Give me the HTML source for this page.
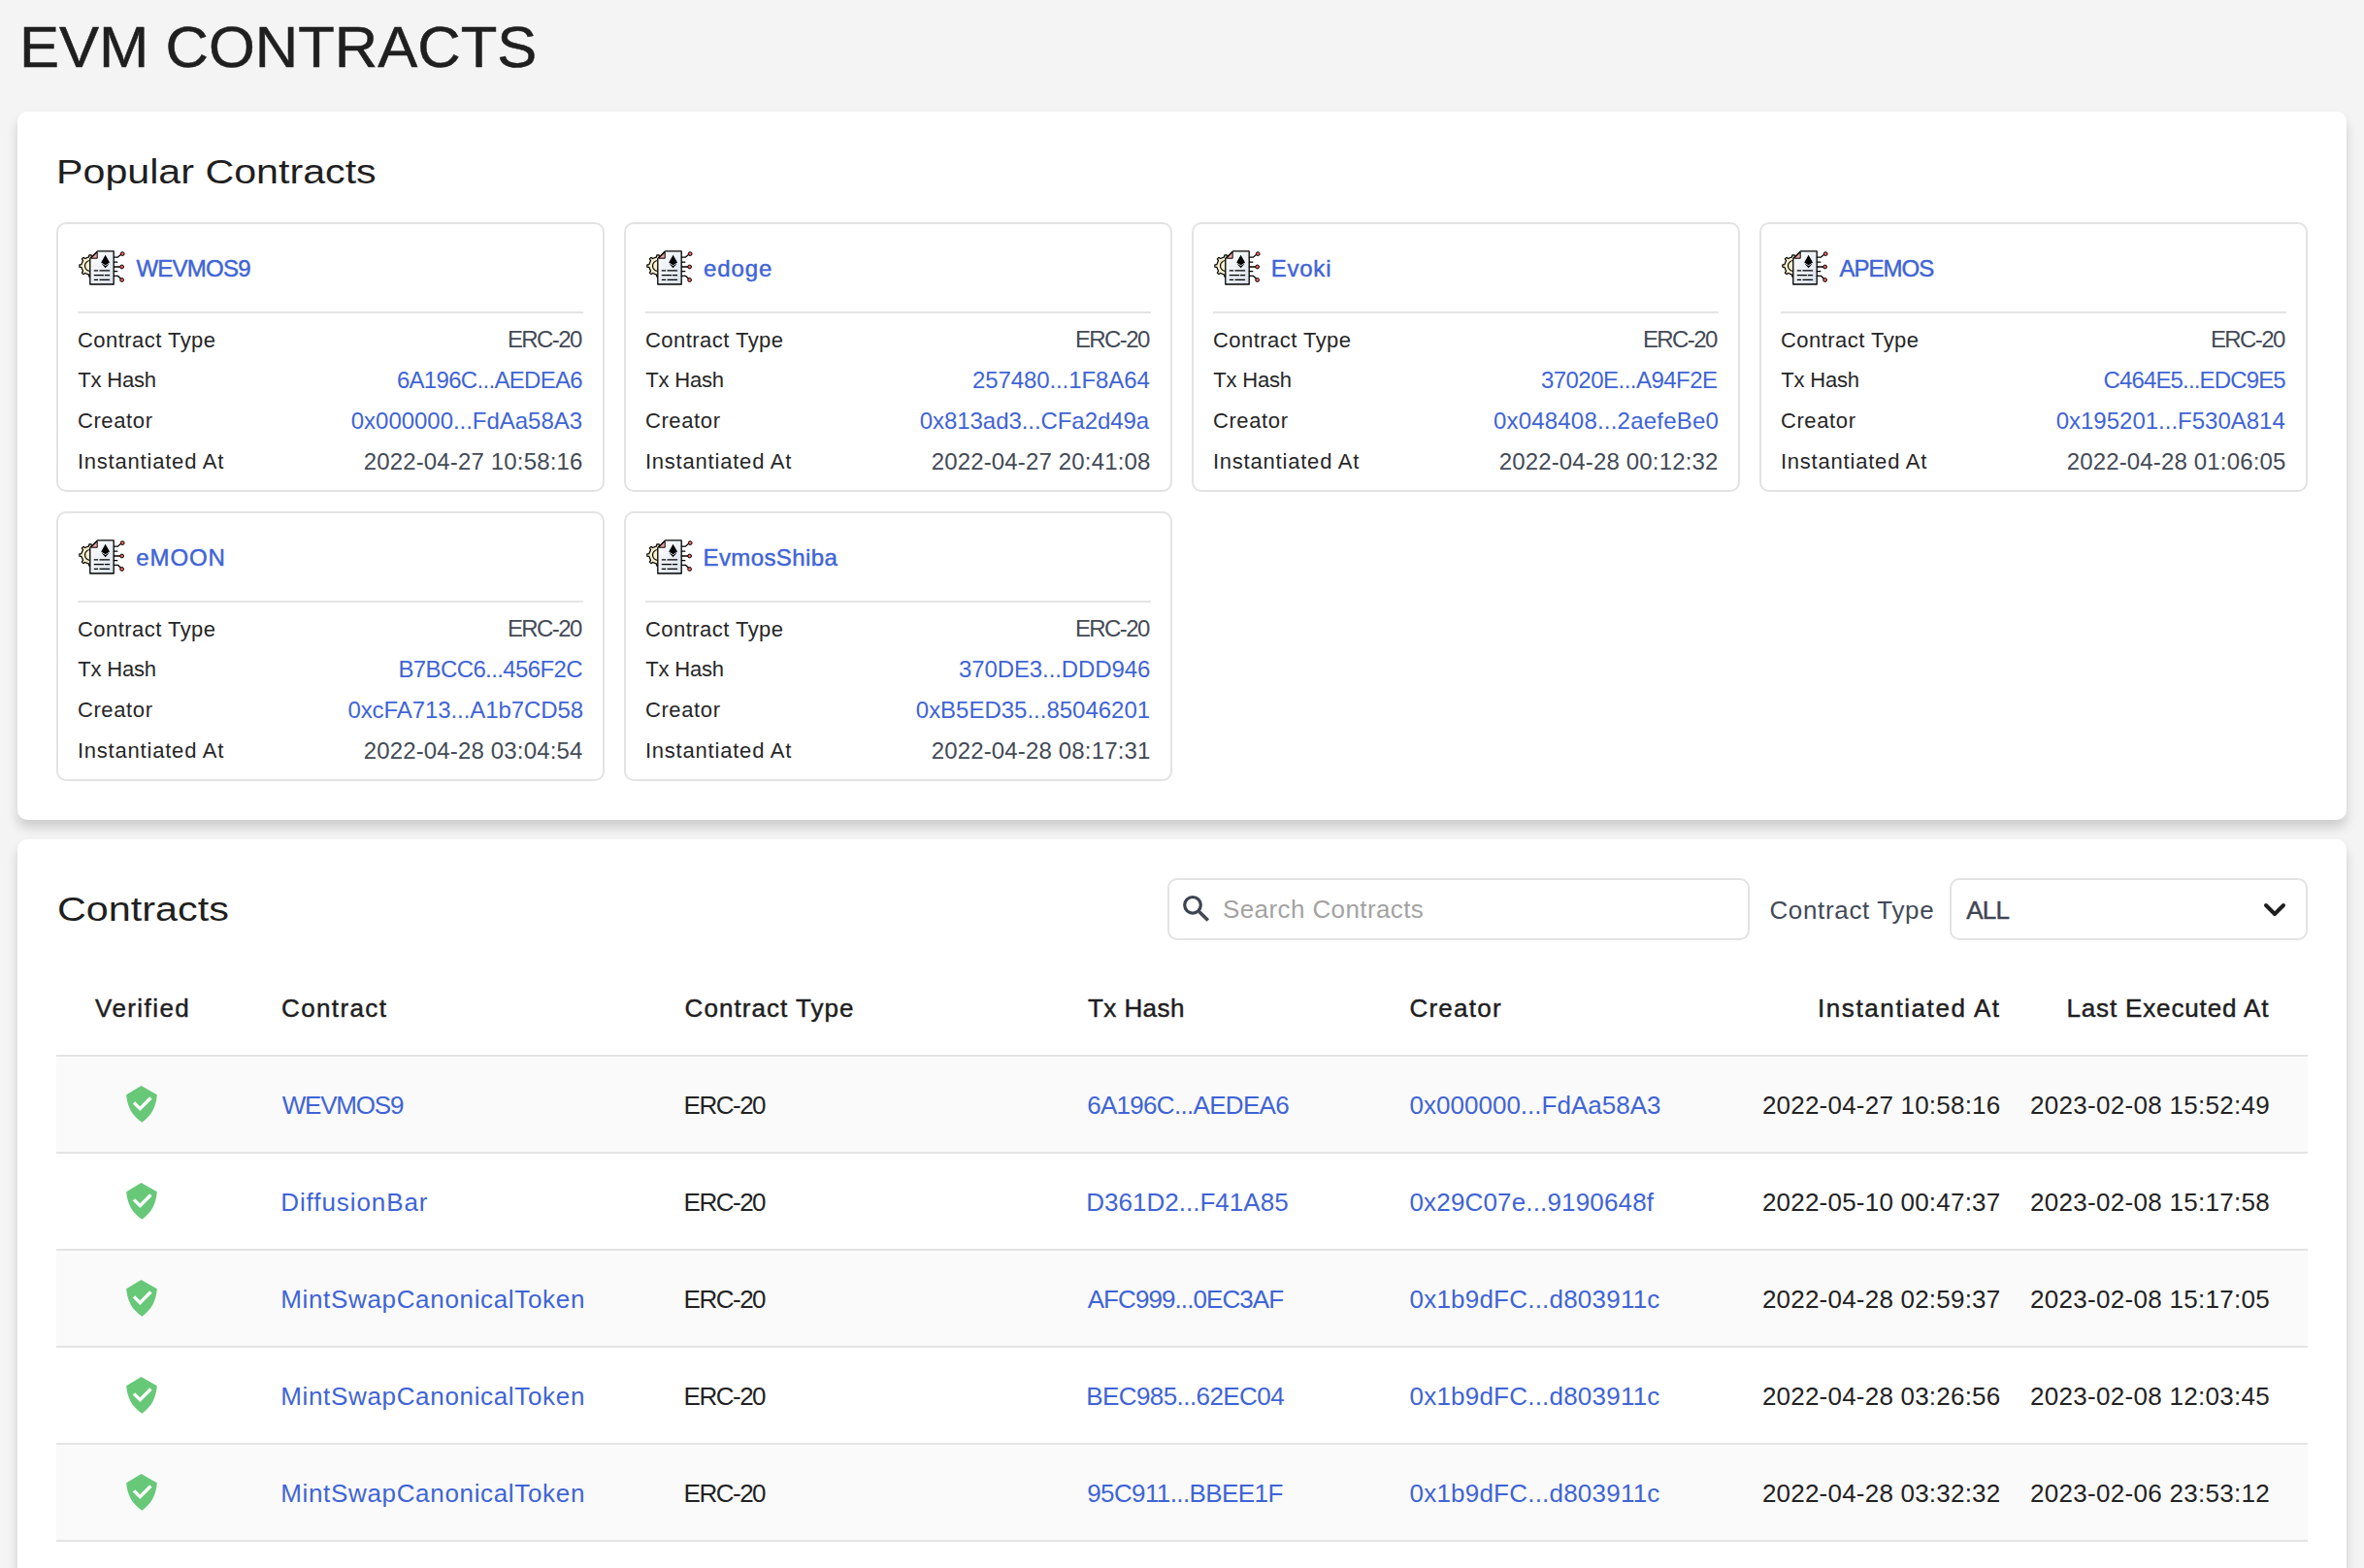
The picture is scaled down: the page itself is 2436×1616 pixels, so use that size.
<!DOCTYPE html>
<html><head><meta charset="utf-8"><title>EVM Contracts</title>
<style>
*{box-sizing:border-box;margin:0;padding:0}
html,body{width:2436px;height:1616px;overflow:hidden;background:#f4f4f4;-webkit-font-smoothing:antialiased;font-family:"Liberation Sans",sans-serif;color:#222;position:relative}
.t{position:absolute;white-space:nowrap}
.ic{position:absolute}
.h1{color:#1f1f1f;transform:scaleX(1.043);transform-origin:0 0;-webkit-text-stroke:0.5px #1f1f1f}
.card{position:absolute;left:18px;width:2400px;background:#fff;border-radius:10px;box-shadow:0 8px 12px rgba(0,0,0,0.16)}
.ct{color:#1f1f1f;transform-origin:0 0}
.pc{position:absolute;width:565px;height:278px;border:2px solid #e3e3e3;border-radius:10px;background:#fff}
.pn{color:#3f64d6;-webkit-text-stroke:0.45px #3f64d6}
.line{position:absolute;height:2px;background:#e4e4e4}
.pl{color:#262626}
.pv{color:#434a55}
.lk{color:#3f64d6 !important}
.box{position:absolute;height:64px;border:2px solid #e3e3e3;border-radius:10px;background:#fff}
.phd{color:#a3a3a3}
.ctl{color:#434a57}
.all{color:#3f4653;-webkit-text-stroke:0.45px #3f4653}
.th{color:#1e1e1e;-webkit-text-stroke:0.45px #1e1e1e}
.tr{position:absolute;left:58px;width:2320px;height:100px;border-bottom:2px solid #e4e4e4}
.tb{color:#222}
</style></head><body>
<svg width="0" height="0" style="position:absolute"><defs><linearGradient id="dg" x1="0" y1="0" x2="1" y2="1"><stop offset="0" stop-color="#ffffff"/><stop offset="1" stop-color="#d9e1ea"/></linearGradient></defs></svg>
<div class="t h1" style="left:19.50px;top:19.86px;font-size:59px;line-height:59px;">EVM CONTRACTS</div>
<div class="card" style="top:115px;height:730px"></div>
<div class="t ct" style="left:57.80px;top:158.92px;font-size:35.3px;line-height:35.3px;transform:scaleX(1.167)">Popular Contracts</div>
<div class="pc" style="left:58px;top:229px"></div>
<svg class="ic" width="60" height="48" viewBox="0 0 60 48" style="left:76px;top:252px">
<path d="M26.09 20.56 L28.14 20.86 L28.14 23.14 L26.09 23.44 L24.44 27.41 L25.69 29.07 L24.07 30.69 L22.41 29.44 L18.44 31.09 L18.14 33.14 L15.86 33.14 L15.56 31.09 L11.59 29.44 L9.93 30.69 L8.31 29.07 L9.56 27.41 L7.91 23.44 L5.86 23.14 L5.86 20.86 L7.91 20.56 L9.56 16.59 L8.31 14.93 L9.93 13.31 L11.59 14.56 L15.56 12.91 L15.86 10.86 L18.14 10.86 L18.44 12.91 L22.41 14.56 L24.07 13.31 L25.69 14.93 L24.44 16.59 Z" fill="#f9f0cc" stroke="#000" stroke-width="1.2" stroke-linejoin="round"/>
<path d="M17 16.5 A5.5 5.5 0 0 0 17 27.5" fill="none" stroke="#000" stroke-width="1.2"/>
<path d="M16.8 14.5 L24.4 6.9 L41.2 6.9 L41.2 41 L16.8 41 Z" fill="url(#dg)" stroke="#000" stroke-width="1.3" stroke-linejoin="round"/>
<path d="M18 14.2 L24.2 8 L24.2 14.2 Z" fill="#f4a3a3" stroke="#000" stroke-width="1"/>
<path d="M32.6 10.7 L37 18.6 L32.6 21.2 L28.2 18.6 Z M28.4 19.6 L32.6 22.1 L36.8 19.6 L32.6 24.3 Z" fill="#000"/>
<g stroke="#000" stroke-width="1.3" stroke-linecap="round">
<path d="M21.3 26.9 H24.6 M27 26.9 H36.6 M21.3 31.7 H30.5 M32.4 31.7 H36.6 M21.3 36.3 H24.6 M27 36.3 H36.6"/>
<path d="M41.5 13.2 H45.3 L49.6 9.6 M41.5 18.2 H44.8 M41.5 23 H48.6 M41.5 27.7 H44.8 M41.5 32.4 H45.5 L49.4 36" fill="none"/>
</g>
<g fill="#f06262" stroke="#000" stroke-width="1">
<circle cx="50.2" cy="9.6" r="1.9"/><circle cx="49.6" cy="23" r="1.9"/><circle cx="49.6" cy="36.5" r="1.9"/>
</g>
</svg>
<div class="t pn" style="left:140.50px;top:264.58px;font-size:24px;line-height:24px;letter-spacing:-0.783px">WEVMOS9</div>
<div class="line" style="left:80px;top:321px;width:521px"></div>
<div class="t pl" style="left:79.90px;top:339.58px;font-size:22px;line-height:22px;letter-spacing:0.467px">Contract Type</div>
<div class="t pl" style="left:80.20px;top:381.48px;font-size:22px;line-height:22px;letter-spacing:-0.167px">Tx Hash</div>
<div class="t pl" style="left:79.90px;top:423.48px;font-size:22px;line-height:22px;letter-spacing:0.633px">Creator</div>
<div class="t pl" style="left:79.90px;top:465.28px;font-size:22px;line-height:22px;letter-spacing:0.793px">Instantiated At</div>
<div class="t pv" style="left:522.90px;top:337.88px;font-size:24px;line-height:24px;letter-spacing:-1.58px">ERC-20</div>
<div class="t pv lk" style="left:408.90px;top:379.78px;font-size:24px;line-height:24px;letter-spacing:-0.693px">6A196C...AEDEA6</div>
<div class="t pv lk" style="left:361.80px;top:421.78px;font-size:24px;line-height:24px;letter-spacing:-0.033px">0x000000...FdAa58A3</div>
<div class="t pv" style="left:374.65px;top:463.58px;font-size:24px;line-height:24px;letter-spacing:0.158px">2022-04-27 10:58:16</div>
<div class="pc" style="left:643px;top:229px"></div>
<svg class="ic" width="60" height="48" viewBox="0 0 60 48" style="left:661px;top:252px">
<path d="M26.09 20.56 L28.14 20.86 L28.14 23.14 L26.09 23.44 L24.44 27.41 L25.69 29.07 L24.07 30.69 L22.41 29.44 L18.44 31.09 L18.14 33.14 L15.86 33.14 L15.56 31.09 L11.59 29.44 L9.93 30.69 L8.31 29.07 L9.56 27.41 L7.91 23.44 L5.86 23.14 L5.86 20.86 L7.91 20.56 L9.56 16.59 L8.31 14.93 L9.93 13.31 L11.59 14.56 L15.56 12.91 L15.86 10.86 L18.14 10.86 L18.44 12.91 L22.41 14.56 L24.07 13.31 L25.69 14.93 L24.44 16.59 Z" fill="#f9f0cc" stroke="#000" stroke-width="1.2" stroke-linejoin="round"/>
<path d="M17 16.5 A5.5 5.5 0 0 0 17 27.5" fill="none" stroke="#000" stroke-width="1.2"/>
<path d="M16.8 14.5 L24.4 6.9 L41.2 6.9 L41.2 41 L16.8 41 Z" fill="url(#dg)" stroke="#000" stroke-width="1.3" stroke-linejoin="round"/>
<path d="M18 14.2 L24.2 8 L24.2 14.2 Z" fill="#f4a3a3" stroke="#000" stroke-width="1"/>
<path d="M32.6 10.7 L37 18.6 L32.6 21.2 L28.2 18.6 Z M28.4 19.6 L32.6 22.1 L36.8 19.6 L32.6 24.3 Z" fill="#000"/>
<g stroke="#000" stroke-width="1.3" stroke-linecap="round">
<path d="M21.3 26.9 H24.6 M27 26.9 H36.6 M21.3 31.7 H30.5 M32.4 31.7 H36.6 M21.3 36.3 H24.6 M27 36.3 H36.6"/>
<path d="M41.5 13.2 H45.3 L49.6 9.6 M41.5 18.2 H44.8 M41.5 23 H48.6 M41.5 27.7 H44.8 M41.5 32.4 H45.5 L49.4 36" fill="none"/>
</g>
<g fill="#f06262" stroke="#000" stroke-width="1">
<circle cx="50.2" cy="9.6" r="1.9"/><circle cx="49.6" cy="23" r="1.9"/><circle cx="49.6" cy="36.5" r="1.9"/>
</g>
</svg>
<div class="t pn" style="left:725.00px;top:264.58px;font-size:24px;line-height:24px;letter-spacing:0.875px">edoge</div>
<div class="line" style="left:665px;top:321px;width:521px"></div>
<div class="t pl" style="left:664.90px;top:339.58px;font-size:22px;line-height:22px;letter-spacing:0.467px">Contract Type</div>
<div class="t pl" style="left:665.20px;top:381.48px;font-size:22px;line-height:22px;letter-spacing:-0.167px">Tx Hash</div>
<div class="t pl" style="left:664.90px;top:423.48px;font-size:22px;line-height:22px;letter-spacing:0.633px">Creator</div>
<div class="t pl" style="left:664.90px;top:465.28px;font-size:22px;line-height:22px;letter-spacing:0.793px">Instantiated At</div>
<div class="t pv" style="left:1107.90px;top:337.88px;font-size:24px;line-height:24px;letter-spacing:-1.58px">ERC-20</div>
<div class="t pv lk" style="left:1002.00px;top:379.78px;font-size:24px;line-height:24px;letter-spacing:-0.1px">257480...1F8A64</div>
<div class="t pv lk" style="left:947.80px;top:421.78px;font-size:24px;line-height:24px;letter-spacing:-0.067px">0x813ad3...CFa2d49a</div>
<div class="t pv" style="left:959.65px;top:463.58px;font-size:24px;line-height:24px;letter-spacing:0.158px">2022-04-27 20:41:08</div>
<div class="pc" style="left:1228px;top:229px"></div>
<svg class="ic" width="60" height="48" viewBox="0 0 60 48" style="left:1246px;top:252px">
<path d="M26.09 20.56 L28.14 20.86 L28.14 23.14 L26.09 23.44 L24.44 27.41 L25.69 29.07 L24.07 30.69 L22.41 29.44 L18.44 31.09 L18.14 33.14 L15.86 33.14 L15.56 31.09 L11.59 29.44 L9.93 30.69 L8.31 29.07 L9.56 27.41 L7.91 23.44 L5.86 23.14 L5.86 20.86 L7.91 20.56 L9.56 16.59 L8.31 14.93 L9.93 13.31 L11.59 14.56 L15.56 12.91 L15.86 10.86 L18.14 10.86 L18.44 12.91 L22.41 14.56 L24.07 13.31 L25.69 14.93 L24.44 16.59 Z" fill="#f9f0cc" stroke="#000" stroke-width="1.2" stroke-linejoin="round"/>
<path d="M17 16.5 A5.5 5.5 0 0 0 17 27.5" fill="none" stroke="#000" stroke-width="1.2"/>
<path d="M16.8 14.5 L24.4 6.9 L41.2 6.9 L41.2 41 L16.8 41 Z" fill="url(#dg)" stroke="#000" stroke-width="1.3" stroke-linejoin="round"/>
<path d="M18 14.2 L24.2 8 L24.2 14.2 Z" fill="#f4a3a3" stroke="#000" stroke-width="1"/>
<path d="M32.6 10.7 L37 18.6 L32.6 21.2 L28.2 18.6 Z M28.4 19.6 L32.6 22.1 L36.8 19.6 L32.6 24.3 Z" fill="#000"/>
<g stroke="#000" stroke-width="1.3" stroke-linecap="round">
<path d="M21.3 26.9 H24.6 M27 26.9 H36.6 M21.3 31.7 H30.5 M32.4 31.7 H36.6 M21.3 36.3 H24.6 M27 36.3 H36.6"/>
<path d="M41.5 13.2 H45.3 L49.6 9.6 M41.5 18.2 H44.8 M41.5 23 H48.6 M41.5 27.7 H44.8 M41.5 32.4 H45.5 L49.4 36" fill="none"/>
</g>
<g fill="#f06262" stroke="#000" stroke-width="1">
<circle cx="50.2" cy="9.6" r="1.9"/><circle cx="49.6" cy="23" r="1.9"/><circle cx="49.6" cy="36.5" r="1.9"/>
</g>
</svg>
<div class="t pn" style="left:1309.70px;top:264.58px;font-size:24px;line-height:24px;letter-spacing:0.775px">Evoki</div>
<div class="line" style="left:1250px;top:321px;width:521px"></div>
<div class="t pl" style="left:1249.90px;top:339.58px;font-size:22px;line-height:22px;letter-spacing:0.467px">Contract Type</div>
<div class="t pl" style="left:1250.20px;top:381.48px;font-size:22px;line-height:22px;letter-spacing:-0.167px">Tx Hash</div>
<div class="t pl" style="left:1249.90px;top:423.48px;font-size:22px;line-height:22px;letter-spacing:0.633px">Creator</div>
<div class="t pl" style="left:1249.90px;top:465.28px;font-size:22px;line-height:22px;letter-spacing:0.793px">Instantiated At</div>
<div class="t pv" style="left:1692.90px;top:337.88px;font-size:24px;line-height:24px;letter-spacing:-1.58px">ERC-20</div>
<div class="t pv lk" style="left:1587.90px;top:379.78px;font-size:24px;line-height:24px;letter-spacing:-0.521px">37020E...A94F2E</div>
<div class="t pv lk" style="left:1538.90px;top:421.78px;font-size:24px;line-height:24px;letter-spacing:0.206px">0x048408...2aefeBe0</div>
<div class="t pv" style="left:1544.65px;top:463.58px;font-size:24px;line-height:24px;letter-spacing:0.158px">2022-04-28 00:12:32</div>
<div class="pc" style="left:1813px;top:229px"></div>
<svg class="ic" width="60" height="48" viewBox="0 0 60 48" style="left:1831px;top:252px">
<path d="M26.09 20.56 L28.14 20.86 L28.14 23.14 L26.09 23.44 L24.44 27.41 L25.69 29.07 L24.07 30.69 L22.41 29.44 L18.44 31.09 L18.14 33.14 L15.86 33.14 L15.56 31.09 L11.59 29.44 L9.93 30.69 L8.31 29.07 L9.56 27.41 L7.91 23.44 L5.86 23.14 L5.86 20.86 L7.91 20.56 L9.56 16.59 L8.31 14.93 L9.93 13.31 L11.59 14.56 L15.56 12.91 L15.86 10.86 L18.14 10.86 L18.44 12.91 L22.41 14.56 L24.07 13.31 L25.69 14.93 L24.44 16.59 Z" fill="#f9f0cc" stroke="#000" stroke-width="1.2" stroke-linejoin="round"/>
<path d="M17 16.5 A5.5 5.5 0 0 0 17 27.5" fill="none" stroke="#000" stroke-width="1.2"/>
<path d="M16.8 14.5 L24.4 6.9 L41.2 6.9 L41.2 41 L16.8 41 Z" fill="url(#dg)" stroke="#000" stroke-width="1.3" stroke-linejoin="round"/>
<path d="M18 14.2 L24.2 8 L24.2 14.2 Z" fill="#f4a3a3" stroke="#000" stroke-width="1"/>
<path d="M32.6 10.7 L37 18.6 L32.6 21.2 L28.2 18.6 Z M28.4 19.6 L32.6 22.1 L36.8 19.6 L32.6 24.3 Z" fill="#000"/>
<g stroke="#000" stroke-width="1.3" stroke-linecap="round">
<path d="M21.3 26.9 H24.6 M27 26.9 H36.6 M21.3 31.7 H30.5 M32.4 31.7 H36.6 M21.3 36.3 H24.6 M27 36.3 H36.6"/>
<path d="M41.5 13.2 H45.3 L49.6 9.6 M41.5 18.2 H44.8 M41.5 23 H48.6 M41.5 27.7 H44.8 M41.5 32.4 H45.5 L49.4 36" fill="none"/>
</g>
<g fill="#f06262" stroke="#000" stroke-width="1">
<circle cx="50.2" cy="9.6" r="1.9"/><circle cx="49.6" cy="23" r="1.9"/><circle cx="49.6" cy="36.5" r="1.9"/>
</g>
</svg>
<div class="t pn" style="left:1895.40px;top:264.58px;font-size:24px;line-height:24px;letter-spacing:-0.98px">APEMOS</div>
<div class="line" style="left:1835px;top:321px;width:521px"></div>
<div class="t pl" style="left:1834.90px;top:339.58px;font-size:22px;line-height:22px;letter-spacing:0.467px">Contract Type</div>
<div class="t pl" style="left:1835.20px;top:381.48px;font-size:22px;line-height:22px;letter-spacing:-0.167px">Tx Hash</div>
<div class="t pl" style="left:1834.90px;top:423.48px;font-size:22px;line-height:22px;letter-spacing:0.633px">Creator</div>
<div class="t pl" style="left:1834.90px;top:465.28px;font-size:22px;line-height:22px;letter-spacing:0.793px">Instantiated At</div>
<div class="t pv" style="left:2277.90px;top:337.88px;font-size:24px;line-height:24px;letter-spacing:-1.58px">ERC-20</div>
<div class="t pv lk" style="left:2167.40px;top:379.78px;font-size:24px;line-height:24px;letter-spacing:-0.843px">C464E5...EDC9E5</div>
<div class="t pv lk" style="left:2118.70px;top:421.78px;font-size:24px;line-height:24px;letter-spacing:-0.006px">0x195201...F530A814</div>
<div class="t pv" style="left:2129.65px;top:463.58px;font-size:24px;line-height:24px;letter-spacing:0.158px">2022-04-28 01:06:05</div>
<div class="pc" style="left:58px;top:527px"></div>
<svg class="ic" width="60" height="48" viewBox="0 0 60 48" style="left:76px;top:550px">
<path d="M26.09 20.56 L28.14 20.86 L28.14 23.14 L26.09 23.44 L24.44 27.41 L25.69 29.07 L24.07 30.69 L22.41 29.44 L18.44 31.09 L18.14 33.14 L15.86 33.14 L15.56 31.09 L11.59 29.44 L9.93 30.69 L8.31 29.07 L9.56 27.41 L7.91 23.44 L5.86 23.14 L5.86 20.86 L7.91 20.56 L9.56 16.59 L8.31 14.93 L9.93 13.31 L11.59 14.56 L15.56 12.91 L15.86 10.86 L18.14 10.86 L18.44 12.91 L22.41 14.56 L24.07 13.31 L25.69 14.93 L24.44 16.59 Z" fill="#f9f0cc" stroke="#000" stroke-width="1.2" stroke-linejoin="round"/>
<path d="M17 16.5 A5.5 5.5 0 0 0 17 27.5" fill="none" stroke="#000" stroke-width="1.2"/>
<path d="M16.8 14.5 L24.4 6.9 L41.2 6.9 L41.2 41 L16.8 41 Z" fill="url(#dg)" stroke="#000" stroke-width="1.3" stroke-linejoin="round"/>
<path d="M18 14.2 L24.2 8 L24.2 14.2 Z" fill="#f4a3a3" stroke="#000" stroke-width="1"/>
<path d="M32.6 10.7 L37 18.6 L32.6 21.2 L28.2 18.6 Z M28.4 19.6 L32.6 22.1 L36.8 19.6 L32.6 24.3 Z" fill="#000"/>
<g stroke="#000" stroke-width="1.3" stroke-linecap="round">
<path d="M21.3 26.9 H24.6 M27 26.9 H36.6 M21.3 31.7 H30.5 M32.4 31.7 H36.6 M21.3 36.3 H24.6 M27 36.3 H36.6"/>
<path d="M41.5 13.2 H45.3 L49.6 9.6 M41.5 18.2 H44.8 M41.5 23 H48.6 M41.5 27.7 H44.8 M41.5 32.4 H45.5 L49.4 36" fill="none"/>
</g>
<g fill="#f06262" stroke="#000" stroke-width="1">
<circle cx="50.2" cy="9.6" r="1.9"/><circle cx="49.6" cy="23" r="1.9"/><circle cx="49.6" cy="36.5" r="1.9"/>
</g>
</svg>
<div class="t pn" style="left:140.20px;top:562.58px;font-size:24px;line-height:24px;letter-spacing:0.925px">eMOON</div>
<div class="line" style="left:80px;top:619px;width:521px"></div>
<div class="t pl" style="left:79.90px;top:637.58px;font-size:22px;line-height:22px;letter-spacing:0.467px">Contract Type</div>
<div class="t pl" style="left:80.20px;top:679.48px;font-size:22px;line-height:22px;letter-spacing:-0.167px">Tx Hash</div>
<div class="t pl" style="left:79.90px;top:721.48px;font-size:22px;line-height:22px;letter-spacing:0.633px">Creator</div>
<div class="t pl" style="left:79.90px;top:763.28px;font-size:22px;line-height:22px;letter-spacing:0.793px">Instantiated At</div>
<div class="t pv" style="left:522.90px;top:635.88px;font-size:24px;line-height:24px;letter-spacing:-1.58px">ERC-20</div>
<div class="t pv lk" style="left:410.40px;top:677.78px;font-size:24px;line-height:24px;letter-spacing:-0.607px">B7BCC6...456F2C</div>
<div class="t pv lk" style="left:358.40px;top:719.78px;font-size:24px;line-height:24px;letter-spacing:-0.083px">0xcFA713...A1b7CD58</div>
<div class="t pv" style="left:374.65px;top:761.58px;font-size:24px;line-height:24px;letter-spacing:0.158px">2022-04-28 03:04:54</div>
<div class="pc" style="left:643px;top:527px"></div>
<svg class="ic" width="60" height="48" viewBox="0 0 60 48" style="left:661px;top:550px">
<path d="M26.09 20.56 L28.14 20.86 L28.14 23.14 L26.09 23.44 L24.44 27.41 L25.69 29.07 L24.07 30.69 L22.41 29.44 L18.44 31.09 L18.14 33.14 L15.86 33.14 L15.56 31.09 L11.59 29.44 L9.93 30.69 L8.31 29.07 L9.56 27.41 L7.91 23.44 L5.86 23.14 L5.86 20.86 L7.91 20.56 L9.56 16.59 L8.31 14.93 L9.93 13.31 L11.59 14.56 L15.56 12.91 L15.86 10.86 L18.14 10.86 L18.44 12.91 L22.41 14.56 L24.07 13.31 L25.69 14.93 L24.44 16.59 Z" fill="#f9f0cc" stroke="#000" stroke-width="1.2" stroke-linejoin="round"/>
<path d="M17 16.5 A5.5 5.5 0 0 0 17 27.5" fill="none" stroke="#000" stroke-width="1.2"/>
<path d="M16.8 14.5 L24.4 6.9 L41.2 6.9 L41.2 41 L16.8 41 Z" fill="url(#dg)" stroke="#000" stroke-width="1.3" stroke-linejoin="round"/>
<path d="M18 14.2 L24.2 8 L24.2 14.2 Z" fill="#f4a3a3" stroke="#000" stroke-width="1"/>
<path d="M32.6 10.7 L37 18.6 L32.6 21.2 L28.2 18.6 Z M28.4 19.6 L32.6 22.1 L36.8 19.6 L32.6 24.3 Z" fill="#000"/>
<g stroke="#000" stroke-width="1.3" stroke-linecap="round">
<path d="M21.3 26.9 H24.6 M27 26.9 H36.6 M21.3 31.7 H30.5 M32.4 31.7 H36.6 M21.3 36.3 H24.6 M27 36.3 H36.6"/>
<path d="M41.5 13.2 H45.3 L49.6 9.6 M41.5 18.2 H44.8 M41.5 23 H48.6 M41.5 27.7 H44.8 M41.5 32.4 H45.5 L49.4 36" fill="none"/>
</g>
<g fill="#f06262" stroke="#000" stroke-width="1">
<circle cx="50.2" cy="9.6" r="1.9"/><circle cx="49.6" cy="23" r="1.9"/><circle cx="49.6" cy="36.5" r="1.9"/>
</g>
</svg>
<div class="t pn" style="left:724.60px;top:562.58px;font-size:24px;line-height:24px;letter-spacing:0.378px">EvmosShiba</div>
<div class="line" style="left:665px;top:619px;width:521px"></div>
<div class="t pl" style="left:664.90px;top:637.58px;font-size:22px;line-height:22px;letter-spacing:0.467px">Contract Type</div>
<div class="t pl" style="left:665.20px;top:679.48px;font-size:22px;line-height:22px;letter-spacing:-0.167px">Tx Hash</div>
<div class="t pl" style="left:664.90px;top:721.48px;font-size:22px;line-height:22px;letter-spacing:0.633px">Creator</div>
<div class="t pl" style="left:664.90px;top:763.28px;font-size:22px;line-height:22px;letter-spacing:0.793px">Instantiated At</div>
<div class="t pv" style="left:1107.90px;top:635.88px;font-size:24px;line-height:24px;letter-spacing:-1.58px">ERC-20</div>
<div class="t pv lk" style="left:987.90px;top:677.78px;font-size:24px;line-height:24px;letter-spacing:-0.093px">370DE3...DDD946</div>
<div class="t pv lk" style="left:943.80px;top:719.78px;font-size:24px;line-height:24px;letter-spacing:-0.011px">0xB5ED35...85046201</div>
<div class="t pv" style="left:959.65px;top:761.58px;font-size:24px;line-height:24px;letter-spacing:0.158px">2022-04-28 08:17:31</div>
<div class="card" style="top:865px;height:820px"></div>
<div class="t ct" style="left:58.80px;top:919.02px;font-size:35.3px;line-height:35.3px;transform:scaleX(1.171)">Contracts</div>
<div class="box" style="left:1203px;top:905px;width:600px"></div>
<svg class="ic" style="left:1214px;top:918px" width="36" height="36" viewBox="0 0 36 36"><circle cx="15" cy="14.8" r="8.3" fill="none" stroke="#3d4450" stroke-width="3.2"/><path d="M21.6 21.4 L30.8 30.6" stroke="#434a55" stroke-width="3.6"/></svg>
<div class="t phd" style="left:1260.00px;top:924.09px;font-size:26px;line-height:26px;letter-spacing:0.4px">Search Contracts</div>
<div class="t ctl" style="left:1823.40px;top:925.09px;font-size:26px;line-height:26px;letter-spacing:0.658px">Contract Type</div>
<div class="box" style="left:2009px;top:905px;width:369px"></div>
<div class="t all" style="left:2026.20px;top:924.99px;font-size:26px;line-height:26px;letter-spacing:-0.8px">ALL</div>
<svg class="ic" style="left:2331px;top:929px" width="26" height="17" viewBox="0 0 26 17"><path d="M4 4 L13 13 L22 4" fill="none" stroke="#1f1f1f" stroke-width="4" stroke-linecap="round" stroke-linejoin="round"/></svg>
<div class="t th" style="left:98.10px;top:1025.69px;font-size:26px;line-height:26px;letter-spacing:1.414px">Verified</div>
<div class="t th" style="left:290.00px;top:1025.69px;font-size:26px;line-height:26px;letter-spacing:1.386px">Contract</div>
<div class="t th" style="left:705.60px;top:1025.69px;font-size:26px;line-height:26px;letter-spacing:1.05px">Contract Type</div>
<div class="t th" style="left:1121.00px;top:1025.69px;font-size:26px;line-height:26px;letter-spacing:0.433px">Tx Hash</div>
<div class="t th" style="left:1452.40px;top:1025.69px;font-size:26px;line-height:26px;letter-spacing:1.25px">Creator</div>
<div class="t th" style="left:1873.00px;top:1025.69px;font-size:26px;line-height:26px;letter-spacing:1.593px">Instantiated At</div>
<div class="t th" style="left:2129.40px;top:1025.69px;font-size:26px;line-height:26px;letter-spacing:0.86px">Last Executed At</div>
<div class="line" style="left:58px;top:1087px;width:2320px"></div>
<div class="tr" style="top:1089px;background:#fafafa"></div>
<svg class="ic" width="40" height="44" viewBox="0 0 40 44" style="left:130px;top:1119px">
<path d="M15.5 0.1 L31.8 9.3 C31 21.1 26 31.1 16.3 37.7 C6 31.1 1 21.1 0.2 9.3 Z" fill="#67c878"/>
<path d="M8 17.4 L14.3 23.6 L25.4 12.5" fill="none" stroke="#fff" stroke-width="3.4"/>
</svg>
<div class="t tb lk" style="left:290.70px;top:1125.89px;font-size:26px;line-height:26px;letter-spacing:-1.2px">WEVMOS9</div>
<div class="t tb" style="left:704.60px;top:1125.89px;font-size:26px;line-height:26px;letter-spacing:-1.5px">ERC-20</div>
<div class="t tb lk" style="left:1120.20px;top:1125.89px;font-size:26px;line-height:26px;letter-spacing:-0.7px">6A196C...AEDEA6</div>
<div class="t tb lk" style="left:1452.50px;top:1125.89px;font-size:26px;line-height:26px;letter-spacing:0.017px">0x000000...FdAa58A3</div>
<div class="t tb" style="left:1815.90px;top:1125.89px;font-size:26px;line-height:26px;letter-spacing:0.217px">2022-04-27 10:58:16</div>
<div class="t tb" style="left:2092.00px;top:1125.89px;font-size:26px;line-height:26px;letter-spacing:0.294px">2023-02-08 15:52:49</div>
<div class="tr" style="top:1189px;background:#ffffff"></div>
<svg class="ic" width="40" height="44" viewBox="0 0 40 44" style="left:130px;top:1219px">
<path d="M15.5 0.1 L31.8 9.3 C31 21.1 26 31.1 16.3 37.7 C6 31.1 1 21.1 0.2 9.3 Z" fill="#67c878"/>
<path d="M8 17.4 L14.3 23.6 L25.4 12.5" fill="none" stroke="#fff" stroke-width="3.4"/>
</svg>
<div class="t tb lk" style="left:289.20px;top:1225.89px;font-size:26px;line-height:26px;letter-spacing:0.927px">DiffusionBar</div>
<div class="t tb" style="left:704.60px;top:1225.89px;font-size:26px;line-height:26px;letter-spacing:-1.5px">ERC-20</div>
<div class="t tb lk" style="left:1119.20px;top:1225.89px;font-size:26px;line-height:26px;letter-spacing:0.021px">D361D2...F41A85</div>
<div class="t tb lk" style="left:1452.50px;top:1225.89px;font-size:26px;line-height:26px;letter-spacing:0.161px">0x29C07e...9190648f</div>
<div class="t tb" style="left:1815.90px;top:1225.89px;font-size:26px;line-height:26px;letter-spacing:0.217px">2022-05-10 00:47:37</div>
<div class="t tb" style="left:2092.00px;top:1225.89px;font-size:26px;line-height:26px;letter-spacing:0.294px">2023-02-08 15:17:58</div>
<div class="tr" style="top:1289px;background:#fafafa"></div>
<svg class="ic" width="40" height="44" viewBox="0 0 40 44" style="left:130px;top:1319px">
<path d="M15.5 0.1 L31.8 9.3 C31 21.1 26 31.1 16.3 37.7 C6 31.1 1 21.1 0.2 9.3 Z" fill="#67c878"/>
<path d="M8 17.4 L14.3 23.6 L25.4 12.5" fill="none" stroke="#fff" stroke-width="3.4"/>
</svg>
<div class="t tb lk" style="left:289.20px;top:1325.89px;font-size:26px;line-height:26px;letter-spacing:0.667px">MintSwapCanonicalToken</div>
<div class="t tb" style="left:704.60px;top:1325.89px;font-size:26px;line-height:26px;letter-spacing:-1.5px">ERC-20</div>
<div class="t tb lk" style="left:1120.70px;top:1325.89px;font-size:26px;line-height:26px;letter-spacing:-0.921px">AFC999...0EC3AF</div>
<div class="t tb lk" style="left:1452.50px;top:1325.89px;font-size:26px;line-height:26px;letter-spacing:0.217px">0x1b9dFC...d803911c</div>
<div class="t tb" style="left:1815.90px;top:1325.89px;font-size:26px;line-height:26px;letter-spacing:0.217px">2022-04-28 02:59:37</div>
<div class="t tb" style="left:2092.00px;top:1325.89px;font-size:26px;line-height:26px;letter-spacing:0.294px">2023-02-08 15:17:05</div>
<div class="tr" style="top:1389px;background:#ffffff"></div>
<svg class="ic" width="40" height="44" viewBox="0 0 40 44" style="left:130px;top:1419px">
<path d="M15.5 0.1 L31.8 9.3 C31 21.1 26 31.1 16.3 37.7 C6 31.1 1 21.1 0.2 9.3 Z" fill="#67c878"/>
<path d="M8 17.4 L14.3 23.6 L25.4 12.5" fill="none" stroke="#fff" stroke-width="3.4"/>
</svg>
<div class="t tb lk" style="left:289.20px;top:1425.89px;font-size:26px;line-height:26px;letter-spacing:0.667px">MintSwapCanonicalToken</div>
<div class="t tb" style="left:704.60px;top:1425.89px;font-size:26px;line-height:26px;letter-spacing:-1.5px">ERC-20</div>
<div class="t tb lk" style="left:1119.20px;top:1425.89px;font-size:26px;line-height:26px;letter-spacing:-0.571px">BEC985...62EC04</div>
<div class="t tb lk" style="left:1452.50px;top:1425.89px;font-size:26px;line-height:26px;letter-spacing:0.217px">0x1b9dFC...d803911c</div>
<div class="t tb" style="left:1815.90px;top:1425.89px;font-size:26px;line-height:26px;letter-spacing:0.217px">2022-04-28 03:26:56</div>
<div class="t tb" style="left:2092.00px;top:1425.89px;font-size:26px;line-height:26px;letter-spacing:0.294px">2023-02-08 12:03:45</div>
<div class="tr" style="top:1489px;background:#fafafa"></div>
<svg class="ic" width="40" height="44" viewBox="0 0 40 44" style="left:130px;top:1519px">
<path d="M15.5 0.1 L31.8 9.3 C31 21.1 26 31.1 16.3 37.7 C6 31.1 1 21.1 0.2 9.3 Z" fill="#67c878"/>
<path d="M8 17.4 L14.3 23.6 L25.4 12.5" fill="none" stroke="#fff" stroke-width="3.4"/>
</svg>
<div class="t tb lk" style="left:289.20px;top:1525.89px;font-size:26px;line-height:26px;letter-spacing:0.667px">MintSwapCanonicalToken</div>
<div class="t tb" style="left:704.60px;top:1525.89px;font-size:26px;line-height:26px;letter-spacing:-1.5px">ERC-20</div>
<div class="t tb lk" style="left:1120.20px;top:1525.89px;font-size:26px;line-height:26px;letter-spacing:-0.6px">95C911...BBEE1F</div>
<div class="t tb lk" style="left:1452.50px;top:1525.89px;font-size:26px;line-height:26px;letter-spacing:0.217px">0x1b9dFC...d803911c</div>
<div class="t tb" style="left:1815.90px;top:1525.89px;font-size:26px;line-height:26px;letter-spacing:0.217px">2022-04-28 03:32:32</div>
<div class="t tb" style="left:2092.00px;top:1525.89px;font-size:26px;line-height:26px;letter-spacing:0.294px">2023-02-06 23:53:12</div>
</body></html>
